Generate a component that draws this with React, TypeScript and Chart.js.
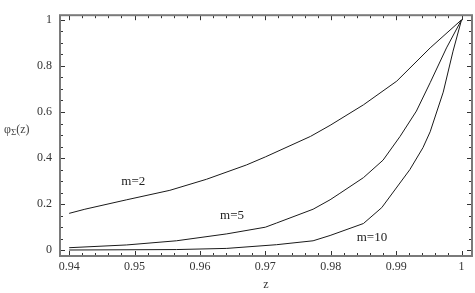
import React, { useEffect, useRef } from "react";
import { Chart, registerables } from "chart.js";

Chart.register(...registerables);

const m2X = [0.94, 0.9424, 0.9488, 0.9554, 0.961, 0.9671, 0.97, 0.9769, 0.9799, 0.985, 0.9901, 0.9952, 1];
const m2Y = [0.16, 0.178, 0.219, 0.26, 0.308, 0.37, 0.405, 0.494, 0.542, 0.631, 0.734, 0.878, 1];

const m5X = [0.94, 0.9488, 0.9564, 0.9641, 0.97, 0.9717, 0.9773, 0.9799, 0.9814, 0.985, 0.988, 0.9906, 0.9931, 0.9952, 0.9977, 1];
const m5Y = [0.011, 0.023, 0.041, 0.071, 0.1, 0.118, 0.178, 0.219, 0.247, 0.315, 0.391, 0.494, 0.604, 0.727, 0.878, 1];

const m10X = [0.94, 0.9564, 0.9641, 0.9717, 0.9773, 0.9799, 0.985, 0.9878, 0.9921, 0.9941, 0.9952, 0.9972, 0.9987, 1];
const m10Y = [0.001, 0.003, 0.008, 0.024, 0.041, 0.064, 0.116, 0.185, 0.35, 0.445, 0.514, 0.686, 0.864, 1];

const xTicks = [0.94, 0.95, 0.96, 0.97, 0.98, 0.99, 1];
const xTickLabels = ["0.94", "0.95", "0.96", "0.97", "0.98", "0.99", "1"];
const yTicks = [0, 0.2, 0.4, 0.6, 0.8, 1];
const yTickLabels = ["0", "0.2", "0.4", "0.6", "0.8", "1"];
const xMinorStep = 0.002;
const yMinorStep = 0.05;

const curveLabels = ["m=2", "m=5", "m=10"];
const curveLabelX = [0.9498, 0.9649, 0.9863];
const curveLabelY = [0.296, 0.152, 0.053];

const FONT = "'Liberation Serif', 'DejaVu Serif', serif";

const framePlugin = {
  id: "framePlugin",
  afterDraw(chart: any) {
    const { ctx, chartArea, scales } = chart;
    const xs = scales.x;
    const ys = scales.y;
    const { left, right, top, bottom } = chartArea;
    ctx.save();
    // ticks inward
    ctx.strokeStyle = "#333";
    ctx.lineWidth = 1;
    const drawX = (v: number, len: number) => {
      const px = Math.round(xs.getPixelForValue(v)) + 0.5;
      ctx.beginPath();
      ctx.moveTo(px, bottom);
      ctx.lineTo(px, bottom - len);
      ctx.moveTo(px, top);
      ctx.lineTo(px, top + len);
      ctx.stroke();
    };
    const drawY = (v: number, len: number) => {
      const py = Math.round(ys.getPixelForValue(v)) + 0.5;
      ctx.beginPath();
      ctx.moveTo(left, py);
      ctx.lineTo(left + len, py);
      ctx.moveTo(right, py);
      ctx.lineTo(right - len, py);
      ctx.stroke();
    };
    const nx = Math.round((xTicks[xTicks.length - 1] - xTicks[0]) / xMinorStep);
    for (let i = 0; i <= nx; i++) {
      const v = xTicks[0] + i * xMinorStep;
      drawX(v, i % 5 === 0 ? 5 : 3);
    }
    const ny = Math.round((yTicks[yTicks.length - 1] - yTicks[0]) / yMinorStep);
    for (let i = 0; i <= ny; i++) {
      const v = yTicks[0] + i * yMinorStep;
      drawY(v, i % 4 === 0 ? 5 : 3);
    }
    // frame
    ctx.strokeStyle = "#7a7a7a";
    ctx.lineWidth = 2;
    ctx.strokeRect(left, top, right - left, bottom - top);
    // curve labels
    ctx.fillStyle = "#222";
    ctx.font = `13px ${FONT}`;
    ctx.textAlign = "center";
    ctx.textBaseline = "middle";
    curveLabels.forEach((t, i) => {
      ctx.fillText(t, xs.getPixelForValue(curveLabelX[i]), ys.getPixelForValue(curveLabelY[i]));
    });
    // y axis label
    ctx.textAlign = "left";
    ctx.textBaseline = "alphabetic";
    ctx.fillStyle = "#444";
    let x0 = 4;
    const by = 133;
    ctx.font = `12px ${FONT}`;
    ctx.fillText("φ", x0, by);
    x0 += ctx.measureText("φ").width;
    ctx.font = `9px ${FONT}`;
    ctx.fillText("Σ", x0, by + 2);
    x0 += ctx.measureText("Σ").width;
    ctx.font = `12px ${FONT}`;
    ctx.fillText("(z)", x0, by);
    ctx.restore();
  },
};

export default function App() {
  const ref = useRef<HTMLCanvasElement | null>(null);
  useEffect(() => {
    document.body.style.margin = "0";
    const mk = (xsArr: number[], ysArr: number[]) => xsArr.map((x, i) => ({ x, y: ysArr[i] }));
    const ds = (label: string, data: any) => ({
      label,
      data,
      borderColor: "#1a1a1a",
      borderWidth: 1,
      pointRadius: 0,
      tension: 0,
      fill: false,
    });
    const chart = new Chart(ref.current as HTMLCanvasElement, {
      type: "line",
      data: {
        datasets: [
          ds("m=2", mk(m2X, m2Y)),
          ds("m=5", mk(m5X, m5Y)),
          ds("m=10", mk(m10X, m10Y)),
        ],
      },
      options: {
        animation: false,
        responsive: false,
        devicePixelRatio: 1,
        layout: { padding: { top: 2, right: 3, left: 0, bottom: 0 } },
        plugins: { legend: { display: false }, tooltip: { enabled: false } },
        scales: {
          x: {
            type: "linear",
            min: 0.9386,
            max: 1.0016,
            grid: { display: false, drawTicks: false },
            border: { display: false },
            afterBuildTicks: (s: any) => {
              s.ticks = xTicks.map((v) => ({ value: v }));
            },
            afterFit: (s: any) => {
              s.height = 37;
            },
            ticks: {
              autoSkip: false,
              maxRotation: 0,
              padding: 4,
              color: "#333",
              font: { family: FONT, size: 12 },
              callback: (v: any) => {
                const i = xTicks.findIndex((t) => Math.abs(t - v) < 1e-9);
                return i >= 0 ? xTickLabels[i] : "";
              },
            },
            title: {
              display: true,
              text: "z",
              color: "#333",
              font: { family: FONT, size: 12 },
              padding: { top: 0, bottom: 1 },
            },
          },
          y: {
            type: "linear",
            min: -0.025,
            max: 1.02,
            grid: { display: false, drawTicks: false },
            border: { display: false },
            afterBuildTicks: (s: any) => {
              s.ticks = yTicks.map((v) => ({ value: v }));
            },
            afterFit: (s: any) => {
              s.width = 60;
            },
            ticks: {
              autoSkip: false,
              padding: 8,
              color: "#333",
              font: { family: FONT, size: 12 },
              callback: (v: any) => {
                const i = yTicks.findIndex((t) => Math.abs(t - v) < 1e-9);
                return i >= 0 ? yTickLabels[i] : "";
              },
            },
          },
        },
      },
      plugins: [framePlugin],
    });
    return () => chart.destroy();
  }, []);
  return (
    <div style={{ position: "absolute", left: 0, top: 0, width: 475, height: 293, background: "#fff" }}>
      <canvas ref={ref} width={475} height={293} />
    </div>
  );
}
